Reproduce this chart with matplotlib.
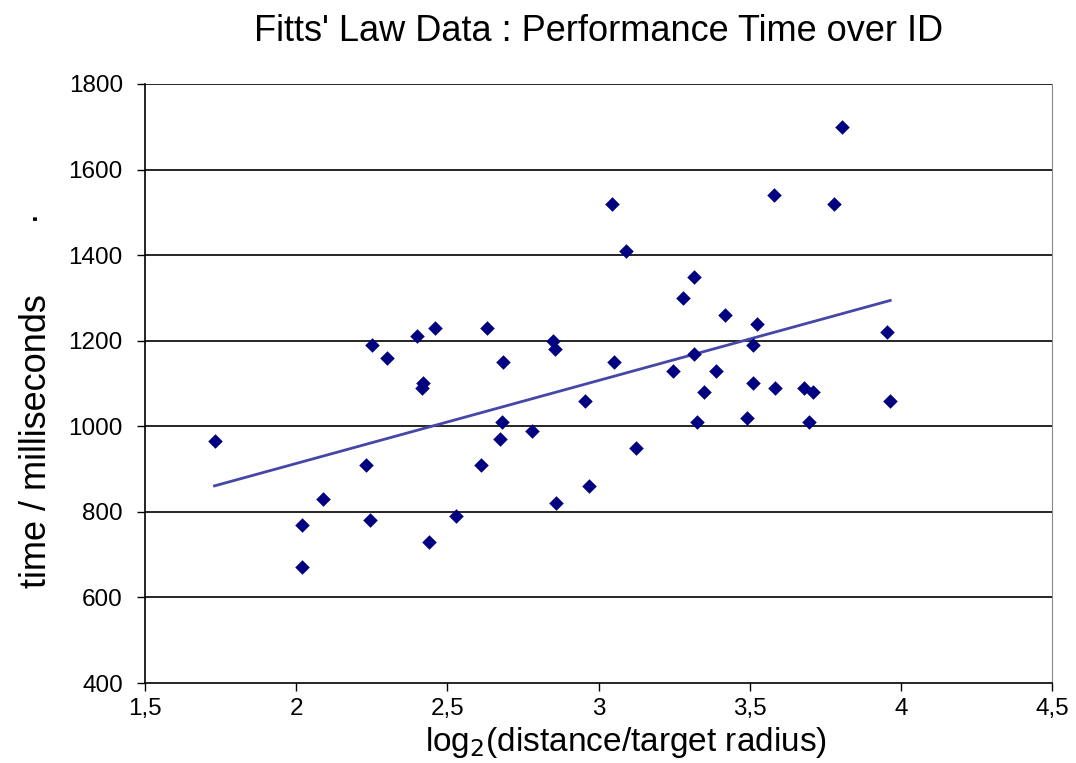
import numpy as np
import matplotlib
matplotlib.use("Agg")
import matplotlib.pyplot as plt

plt.rcParams['font.family'] = ['Liberation Sans', 'DejaVu Sans']

# index of difficulty (log2 of distance / target radius)
id_bits = [1.73, 2.02, 2.02, 2.09, 2.23, 2.25, 2.245, 2.30, 2.40, 2.42,
           2.415, 2.46, 2.44, 2.53, 2.61, 2.63, 2.685, 2.68, 2.675, 2.78,
           2.85, 2.855, 2.86, 2.955, 2.97, 3.045, 3.05, 3.09, 3.125, 3.245,
           3.28, 3.315, 3.315, 3.325, 3.35, 3.39, 3.42, 3.49, 3.51, 3.51,
           3.525, 3.58, 3.585, 3.68, 3.695, 3.71, 3.78, 3.805, 3.955, 3.965]
# performance time in ms
time_ms = [965, 770, 670, 830, 910, 1190, 780, 1160, 1210, 1100,
           1090, 1230, 730, 790, 910, 1230, 1150, 1010, 970, 990,
           1200, 1180, 820, 1060, 860, 1520, 1150, 1410, 950, 1130,
           1300, 1350, 1170, 1010, 1080, 1130, 1260, 1020, 1190, 1100,
           1240, 1540, 1090, 1090, 1010, 1080, 1520, 1700, 1220, 1060]

x_ticks = [1.5, 2, 2.5, 3, 3.5, 4, 4.5]
x_ticklabels = ["1,5", "2", "2,5", "3", "3,5", "4", "4,5"]
y_ticks = [400, 600, 800, 1000, 1200, 1400, 1600, 1800]

x = np.array(id_bits)
y = np.array(time_ms)
slope, intercept = np.polyfit(x, y, 1)
xl = np.array([x.min(), x.max()])

fig = plt.figure(figsize=(10.76, 7.63), dpi=100)
ax = fig.add_axes([145/1076, 1-683/763, (1052-145)/1076, (683-84)/763])

for yt in y_ticks[1:]:
    ax.axhline(yt, color="black", lw=1.2, zorder=1)

ax.plot(xl, slope*xl + intercept, color="#4646a8", lw=2, zorder=2)
ax.scatter(x, y, marker="D", s=55, color="#000080", zorder=3, linewidths=0)

ax.set_xlim(1.5, 4.5)
ax.set_ylim(400, 1800)
ax.set_xticks(x_ticks)
ax.set_xticklabels(x_ticklabels)
ax.set_yticks(y_ticks)

ax.spines["top"].set_visible(False)
ax.spines["right"].set_color("#888888")
ax.spines["left"].set_linewidth(1.2)
ax.spines["bottom"].set_linewidth(1.2)
ax.tick_params(axis="both", direction="out", length=6, width=1, labelsize=17.5)
ax.tick_params(axis="y", pad=10)
ax.tick_params(axis="x", pad=5)

ax.set_xlabel(r"log$_2$(distance/target radius)", fontsize=24)
ax.xaxis.label.set_verticalalignment("baseline")
ax.xaxis.set_label_coords(0.53, -0.113)

ax.set_ylabel("time / milliseconds       \u00b7", fontsize=26)
ax.yaxis.set_label_coords(-0.1003, 0.4725)

ax.set_title("Fitts' Law Data : Performance Time over ID", fontsize=26, pad=31)

fig.savefig("out.png", dpi=100)
